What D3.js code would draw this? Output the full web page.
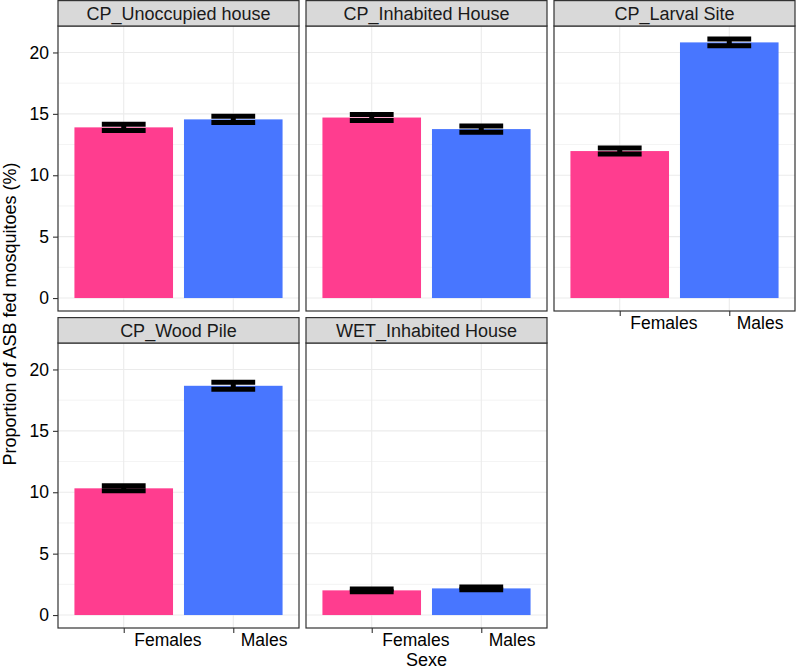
<!DOCTYPE html>
<html>
<head>
<meta charset="utf-8">
<script src="https://cdn.jsdelivr.net/npm/d3@7"></script>
<style>
  body { margin: 0; background: #fff; }
  text { font-family: "Liberation Sans", Arial, Helvetica, sans-serif; }
</style>
</head>
<body>
<div id="chart"></div>
<script>
const width = 797, height = 671;

// data
const panels = ["CP_Unoccupied house", "CP_Inhabited House", "CP_Larval Site", "CP_Wood Pile", "WET_Inhabited House"];
const sexes = ["Females", "Males"];
const femaleMeans = [13.9, 14.7, 11.97, 10.32, 2.01];
const maleMeans = [14.55, 13.76, 20.82, 18.67, 2.17];
const femaleSE = [0.26, 0.25, 0.24, 0.2, 0.11];
const maleSE = [0.26, 0.25, 0.28, 0.29, 0.11];
const yTicks = [0, 5, 10, 15, 20];
const yMinor = [2.5, 7.5, 12.5, 17.5];

const colors = { Females: "#FF3D8F", Males: "#4876FF" };

// facet layout (3 columns, 2 rows)
const colX = [58, 306, 554], panelW = 241;
const rowY = [0, 317], stripH = 26, panelH = 285;
const nCol = 3;

const svg = d3.select("#chart").append("svg")
    .attr("width", width)
    .attr("height", height);

svg.append("rect").attr("width", width).attr("height", height).attr("fill", "#fff");

// common y domain, with ggplot style 5% expansion
const maxVal = d3.max(panels.map((p, i) => Math.max(femaleMeans[i] + femaleSE[i], maleMeans[i] + maleSE[i])));
const pad = 0.05 * maxVal;

panels.forEach((name, i) => {
    const col = i % nCol, row = Math.floor(i / nCol);
    const x0 = colX[col], top = rowY[row] + stripH;
    const g = svg.append("g");

    const x = d3.scalePoint().domain(sexes).range([x0, x0 + panelW]).padding(0.6);
    const y = d3.scaleLinear().domain([-pad, maxVal + pad]).range([top + panelH, top]);
    const step = x.step();

    // panel background + grid
    g.append("rect").attr("x", x0).attr("y", top).attr("width", panelW).attr("height", panelH).attr("fill", "#fff");
    g.selectAll(".minor").data(yMinor).enter().append("line")
        .attr("x1", x0).attr("x2", x0 + panelW)
        .attr("y1", d => y(d)).attr("y2", d => y(d))
        .attr("stroke", "#EBEBEB").attr("stroke-width", 0.6);
    g.selectAll(".major").data(yTicks).enter().append("line")
        .attr("x1", x0).attr("x2", x0 + panelW)
        .attr("y1", d => y(d)).attr("y2", d => y(d))
        .attr("stroke", "#EBEBEB").attr("stroke-width", 1.1);
    g.selectAll(".vmajor").data(sexes).enter().append("line")
        .attr("x1", d => x(d)).attr("x2", d => x(d))
        .attr("y1", top).attr("y2", top + panelH)
        .attr("stroke", "#EBEBEB").attr("stroke-width", 1.1);

    const rows = [
        { sex: "Females", mean: femaleMeans[i], se: femaleSE[i] },
        { sex: "Males", mean: maleMeans[i], se: maleSE[i] }
    ];

    // bars
    g.selectAll(".bar").data(rows).enter().append("rect")
        .attr("x", d => x(d.sex) - 0.45 * step)
        .attr("width", 0.9 * step)
        .attr("y", d => y(d.mean))
        .attr("height", d => y(0) - y(d.mean))
        .attr("fill", d => colors[d.sex]);

    // error bars
    const ew = 0.2 * step;
    rows.forEach(d => {
        const cx = x(d.sex);
        [d.mean + d.se, d.mean - d.se].forEach(v => {
            g.append("line")
                .attr("x1", cx - ew).attr("x2", cx + ew)
                .attr("y1", y(v)).attr("y2", y(v))
                .attr("stroke", "#000").attr("stroke-width", 5);
        });
        g.append("line")
            .attr("x1", cx).attr("x2", cx)
            .attr("y1", y(d.mean + d.se)).attr("y2", y(d.mean - d.se))
            .attr("stroke", "#000").attr("stroke-width", 5);
    });

    // panel border
    g.append("rect").attr("x", x0).attr("y", top).attr("width", panelW).attr("height", panelH)
        .attr("fill", "none").attr("stroke", "#333").attr("stroke-width", 1.2);

    // strip
    g.append("rect").attr("x", x0).attr("y", rowY[row] + 0.6).attr("width", panelW).attr("height", stripH - 0.6)
        .attr("fill", "#D9D9D9").attr("stroke", "#333").attr("stroke-width", 1.2);
    g.append("text")
        .attr("x", x0 + panelW / 2).attr("y", rowY[row] + 19.5)
        .attr("text-anchor", "middle")
        .attr("font-size", 18).attr("fill", "#1A1A1A")
        .text(name);

    // y axis on first column
    if (col === 0) {
        const ya = g.append("g")
            .attr("transform", `translate(${x0},0)`)
            .call(d3.axisLeft(y).tickValues(yTicks).tickSize(5).tickPadding(4).tickFormat(d3.format("d")));
        ya.select(".domain").remove();
        ya.selectAll(".tick line").attr("stroke", "#333").attr("stroke-width", 1.1);
        ya.selectAll(".tick text").attr("font-size", 17.5).attr("fill", "#000")
            .style("font-family", "'Liberation Sans', Arial, Helvetica, sans-serif");
    }

    // x axis where nothing sits below the panel
    if (row === 1 || i + nCol >= panels.length) {
        const xa = g.append("g")
            .attr("transform", `translate(0,${top + panelH})`)
            .call(d3.axisBottom(x).tickSize(5).tickPadding(4));
        xa.select(".domain").remove();
        xa.selectAll(".tick line").attr("stroke", "#333").attr("stroke-width", 1.1);
        xa.selectAll(".tick text")
            .attr("font-size", 17.5).attr("fill", "#000")
            .style("font-family", "'Liberation Sans', Arial, Helvetica, sans-serif")
            .attr("text-anchor", "start")
            .attr("dy", null)
            .attr("y", 18)
            .attr("x", function () { return 0.15 * this.getComputedTextLength(); });
    }
});

// axis titles
svg.append("text")
    .attr("x", (colX[0] + colX[2] + panelW) / 2).attr("y", 666)
    .attr("text-anchor", "middle").attr("font-size", 18).attr("fill", "#000")
    .text("Sexe");

svg.append("text")
    .attr("transform", `translate(15.5,${(rowY[1] + stripH + panelH) / 2}) rotate(-90)`)
    .attr("text-anchor", "middle").attr("font-size", 18).attr("fill", "#000")
    .text("Proportion of ASB fed mosquitoes (%)");
</script>
</body>
</html>
